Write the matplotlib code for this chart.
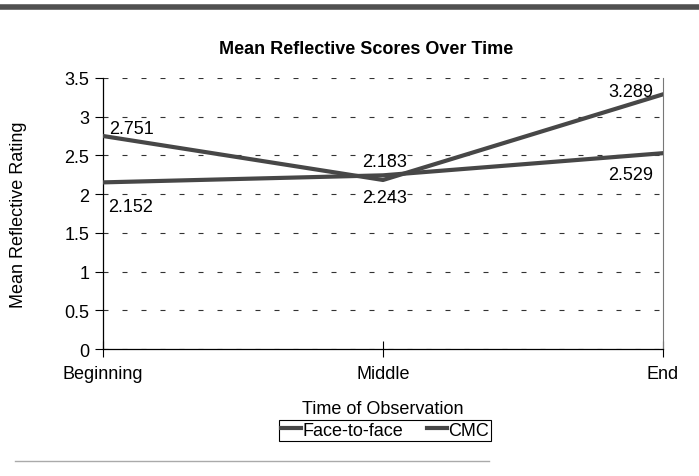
import matplotlib.pyplot as plt
from matplotlib.lines import Line2D

plt.rcParams['font.family'] = ['Liberation Sans', 'DejaVu Sans']

times = ['Beginning', 'Middle', 'End']
face_to_face = [2.152, 2.243, 2.529]
cmc = [2.751, 2.183, 3.289]
yticks = [0, 0.5, 1, 1.5, 2, 2.5, 3, 3.5]

fs = 13

fig = plt.figure(figsize=(6.99, 4.77), dpi=100)
ax = fig.add_axes([0.1474, 0.2662, 0.8011, 0.5682])

x = list(range(len(times)))
line_col = '#474747'
ax.plot(x, face_to_face, color=line_col, lw=3.0, label='Face-to-face', zorder=3)
ax.plot(x, cmc, color=line_col, lw=3.0, label='CMC', zorder=3)

# data labels (offsets in pixels)
ff_off = [(28, -24), (2, -22), (-32, -21)]
cmc_off = [(28, 7), (2, 18), (-32, 3)]
for i in x:
    ax.annotate(f'{face_to_face[i]:.3f}', (i, face_to_face[i]), xytext=ff_off[i],
                textcoords='offset pixels', ha='center', va='center', fontsize=fs)
    ax.annotate(f'{cmc[i]:.3f}', (i, cmc[i]), xytext=cmc_off[i],
                textcoords='offset pixels', ha='center', va='center', fontsize=fs)

ax.set_xlim(0, 2)
ax.set_ylim(0, 3.5)
ax.set_xticks(x)
ax.set_xticklabels(times, fontsize=fs)
ax.set_yticks(yticks)
ax.set_yticklabels([f'{t:g}' for t in yticks], fontsize=fs)
ax.tick_params(axis='y', direction='out', length=6, width=0.8, color='black', pad=4)
ax.tick_params(axis='x', direction='inout', length=11, width=0.8, color='black', pad=6)

ax.yaxis.grid(True, linestyle=(0, (4.5, 12.6)), color='#333333', lw=0.8)
ax.set_axisbelow(True)
ax.spines['top'].set_visible(False)
ax.spines['right'].set_color('#777777')
ax.spines['left'].set_linewidth(0.9)
ax.spines['bottom'].set_linewidth(0.9)

ax.set_title('Mean Reflective Scores Over Time', fontsize=13, fontweight='bold', pad=18, x=0.47)
ax.set_xlabel('Time of Observation', fontsize=fs, labelpad=13)
ax.set_ylabel('Mean Reflective Rating', fontsize=fs, labelpad=27)

leg = fig.legend(loc='center', bbox_to_anchor=(0.551, 0.096), ncol=2, fontsize=fs,
                 frameon=True, fancybox=False, framealpha=1, edgecolor='black',
                 handlelength=1.1, handletextpad=0.1, columnspacing=1.3,
                 borderpad=0.1, borderaxespad=0)
leg.get_frame().set_linewidth(0.8)

# page decorations
fig.add_artist(Line2D([0.003, 1.0], [0.983, 0.983], color='#505050', lw=4))
fig.add_artist(Line2D([0.022, 0.70], [0.031, 0.031], color='#aaaaaa', lw=1))

fig.savefig('out.png', dpi=100)
